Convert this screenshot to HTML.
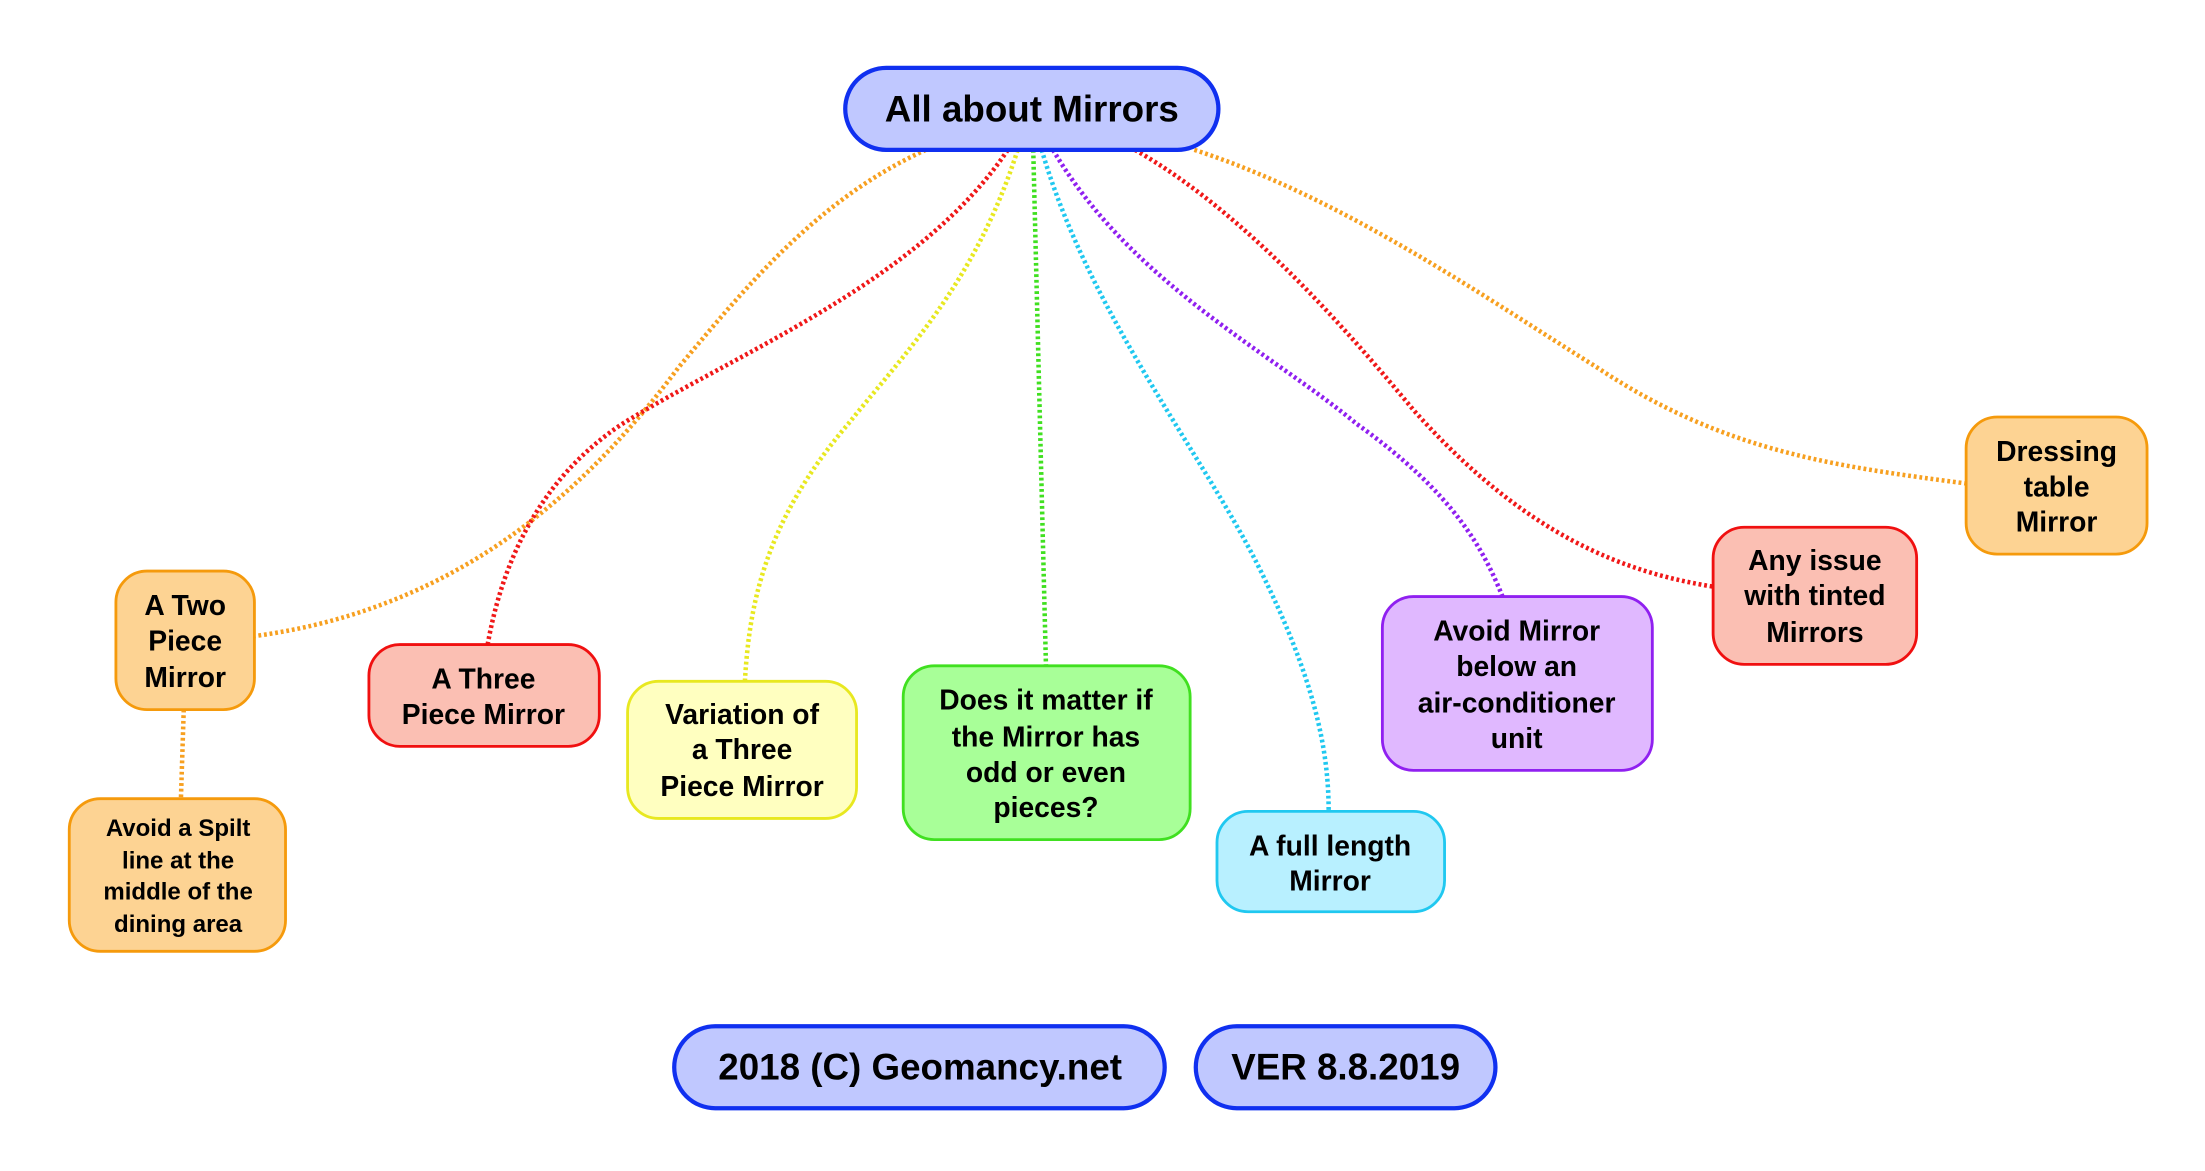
<!DOCTYPE html>
<html><head><meta charset="utf-8"><style>
html,body{margin:0;padding:0;background:#fff;}
svg{display:block;}
text{font-family:"Liberation Sans",Arial,sans-serif;font-weight:bold;fill:#000;text-anchor:middle;dominant-baseline:central;}
</style></head><body>
<svg width="2205" height="1171" viewBox="0 0 1560 828.4" xmlns="http://www.w3.org/2000/svg">
<g fill="none" stroke-width="3.2" stroke-dasharray="2,2">
<path d="M655,106 C580,140 530,200 480,260 C420,340 330,430 180,450" stroke="#f7a020"/>
<path d="M713,106 C650,200 520,250 440,300 C380,340 355,400 345,456" stroke="#f01818"/>
<path d="M720,106 C690,200 640,250 600,300 C540,370 530,430 527,482" stroke="#e8e820"/>
<path d="M731,106 L740,471" stroke="#40e020"/>
<path d="M737,106 C770,220 850,320 890,400 C930,480 940,530 940,574" stroke="#20c8f0"/>
<path d="M745,106 C800,200 900,250 960,300 C1030,350 1050,390 1063,422" stroke="#9020f0"/>
<path d="M803,106 C880,150 950,230 1000,290 C1080,380 1150,405 1212,415" stroke="#f01818"/>
<path d="M845,106 C950,140 1050,210 1130,260 C1220,320 1300,330 1391,342" stroke="#f7a020"/>
<path d="M130,502 L128,565" stroke="#f7a020"/>
</g>
<g stroke-width="2">
<rect x="598" y="48" width="264" height="58" rx="29" fill="#c0c8ff" stroke="#1030f0" stroke-width="3"/>
<rect x="82" y="404" width="98" height="98" rx="22" fill="#fdd393" stroke="#f59a0c"/>
<rect x="49" y="565" width="153" height="108" rx="22" fill="#fdd393" stroke="#f59a0c"/>
<rect x="261" y="456" width="163" height="72" rx="22" fill="#fbbfb3" stroke="#f01010"/>
<rect x="444" y="482" width="162" height="97" rx="22" fill="#ffffc0" stroke="#e8e820"/>
<rect x="639" y="471" width="203" height="123" rx="22" fill="#a8ff98" stroke="#40e020"/>
<rect x="861" y="574" width="161" height="71" rx="22" fill="#b8f0ff" stroke="#20c8f0"/>
<rect x="978" y="422" width="191" height="123" rx="22" fill="#e0b8ff" stroke="#9020f0"/>
<rect x="1212" y="373" width="144" height="97" rx="22" fill="#fbbfb3" stroke="#f01010"/>
<rect x="1391" y="295" width="128" height="97" rx="22" fill="#fdd393" stroke="#f59a0c"/>
<rect x="477" y="726" width="347" height="58" rx="29" fill="#c0c8ff" stroke="#1030f0" stroke-width="3"/>
<rect x="846" y="726" width="212" height="58" rx="29" fill="#c0c8ff" stroke="#1030f0" stroke-width="3"/>
</g>
<text x="730" y="77" font-size="26">All about Mirrors</text>
<g font-size="20">
<text x="131" y="428">A Two</text><text x="131" y="453">Piece</text><text x="131" y="479">Mirror</text>
<text x="342" y="480">A Three</text><text x="342" y="505">Piece Mirror</text>
<text x="525" y="505">Variation of</text><text x="525" y="530">a Three</text><text x="525" y="556">Piece Mirror</text>
<text x="740" y="495">Does it matter if</text><text x="740" y="521">the Mirror has</text><text x="740" y="546">odd or even</text><text x="740" y="571">pieces?</text>
<text x="941" y="598">A full length</text><text x="941" y="623">Mirror</text>
<text x="1073" y="446">Avoid Mirror</text><text x="1073" y="471">below an</text><text x="1073" y="497">air-conditioner</text><text x="1073" y="522">unit</text>
<text x="1284" y="396">Any issue</text><text x="1284" y="421">with tinted</text><text x="1284" y="447">Mirrors</text>
<text x="1455" y="319">Dressing</text><text x="1455" y="344">table</text><text x="1455" y="369">Mirror</text>
</g>
<g font-size="17">
<text x="126" y="586">Avoid a Spilt</text><text x="126" y="609">line at the</text><text x="126" y="631">middle of the</text><text x="126" y="654">dining area</text>
</g>
<text x="651" y="755" font-size="26">2018 (C) Geomancy.net</text>
<text x="952" y="755" font-size="26">VER 8.8.2019</text>
</svg>
</body></html>
